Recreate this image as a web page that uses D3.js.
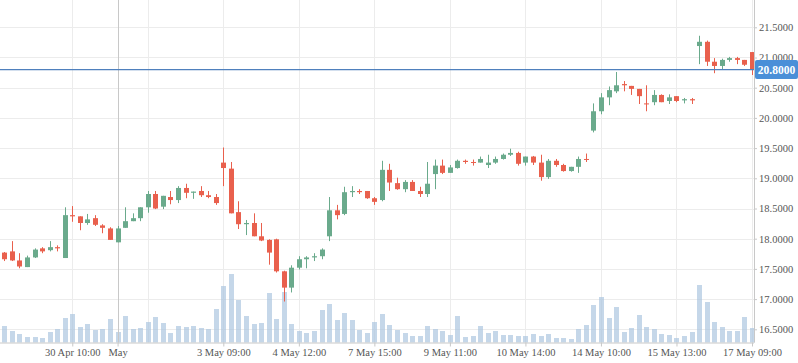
<!DOCTYPE html>
<html>
<head>
<meta charset="utf-8">
<script src="https://cdn.jsdelivr.net/npm/d3@7"></script>
<style>
	html, body { margin: 0; padding: 0; background: #fff; }
	svg { display: block; font-family: "Liberation Serif", "Times New Roman", serif; }
</style>
</head>
<body>
<svg id="chart" width="798" height="363"></svg>
<script>
// hourly candles, one per index
const opens  = [17.77,17.79,17.64,17.53,17.69,17.84,17.81,17.86,17.68,18.39, 18.37,18.26,18.34,18.22,18.17,17.94,18.18,18.29,18.34,18.52,
	18.74,18.53,18.69,18.64,18.84,18.76,18.79,18.72,18.69,19.26, 19.16,18.44,18.24,18.26,18.04,17.98,17.99,17.46,17.19,17.52,
	17.66,17.69,17.71,18.04,18.47,18.41,18.77,18.79,18.79,18.67, 18.64,19.14,18.92,18.82,18.94,18.79,18.74,19.07,19.21,19.09,
	19.17,19.29,19.27,19.26,19.22,19.26,19.32,19.39,19.42,19.26, 19.36,19.26,19.02,19.29,19.22,19.12,19.19,19.32,19.79,20.11,
	20.34,20.44,20.56,20.53,20.48,20.24,20.26,20.38,20.28,20.36, 20.29,20.31,21.19,21.26,20.93,20.86,20.96,20.99,20.96,21.09];
const highs  = [17.78,17.96,17.76,17.72,17.84,17.86,17.96,17.89,18.52,18.54, 18.37,18.41,18.39,18.24,18.19,18.21,18.52,18.42,18.52,18.79,
	18.79,18.71,18.79,18.87,18.91,18.78,18.87,18.79,18.74,19.51, 19.27,18.62,18.31,18.42,18.26,17.99,18.00,17.47,17.56,17.71,
	17.71,17.76,17.84,18.69,18.56,18.86,18.87,18.82,18.79,18.69, 19.29,19.24,19.01,18.97,18.97,18.86,19.27,19.31,19.31,19.22,
	19.31,19.31,19.31,19.36,19.39,19.36,19.41,19.49,19.44,19.36, 19.37,19.39,19.32,19.32,19.24,19.19,19.36,19.41,20.24,20.41,
	20.52,20.76,20.61,20.53,20.48,20.54,20.46,20.39,20.39,20.36, 20.33,20.33,21.36,21.28,20.99,20.98,21.01,21.01,20.96,21.09];
const lows   = [17.63,17.63,17.51,17.53,17.68,17.76,17.79,17.79,17.68,18.28, 18.14,18.23,18.21,18.09,17.98,17.94,18.18,18.29,18.29,18.43,
	18.49,18.49,18.57,18.59,18.67,18.66,18.69,18.67,18.56,18.87, 18.42,18.16,18.06,18.04,17.96,17.57,17.44,16.96,17.11,17.49,
	17.51,17.63,17.66,17.96,18.32,18.39,18.69,18.74,18.66,18.56, 18.62,18.79,18.81,18.77,18.79,18.69,18.69,18.82,19.07,19.09,
	19.16,19.24,19.21,19.26,19.17,19.24,19.31,19.37,19.21,19.21, 19.22,18.96,18.99,19.19,19.11,19.11,19.09,19.27,19.76,20.06,
	20.21,20.41,20.44,20.38,20.23,20.11,20.21,20.26,20.23,20.26, 20.24,20.23,20.89,20.86,20.74,20.81,20.93,20.89,20.86,20.71];
const closes = [17.66,17.64,17.54,17.69,17.82,17.79,17.86,17.84,18.39,18.37, 18.26,18.32,18.23,18.18,17.98,18.17,18.29,18.34,18.52,18.74,
	18.50,18.71,18.64,18.84,18.76,18.78,18.72,18.69,18.59,19.17, 18.42,18.24,18.26,18.04,17.97,17.77,17.46,17.19,17.52,17.66,
	17.69,17.71,17.82,18.47,18.39,18.77,18.79,18.77,18.67,18.61, 19.14,18.93,18.82,18.94,18.79,18.74,18.91,19.21,19.09,19.18,
	19.29,19.27,19.26,19.32,19.26,19.32,19.39,19.42,19.24,19.36, 19.26,19.02,19.29,19.22,19.12,19.19,19.32,19.31,20.11,20.34,
	20.46,20.54,20.54,20.48,20.36,20.23,20.38,20.26,20.34,20.28, 20.31,20.29,21.26,20.93,20.86,20.96,20.99,20.96,20.88,20.80];
const volumes = [165,115,85,55,55,45,105,135,245,285, 155,185,125,135,235,105,265,135,145,205,
	255,195,95,165,155,165,145,135,335,565, 685,425,265,185,195,495,235,505,185,115,
	95,115,325,385,225,295,225,125,95,205, 285,175,125,95,65,65,165,135,115,75,
	265,55,65,165,95,115,75,75,65,65, 85,65,85,45,45,35,135,175,375,455,
	245,355,105,145,275,155,135,85,75,45, 65,105,575,405,205,155,115,115,255,145];

const priceTicks = [16.5,17,17.5,18,18.5,19,19.5,20,20.5,21,21.5];
const gridIdx = [9,19,29,39,49,59,69,79,89,99];
const xTickIdx = [9,15,29,39,49,59,69,79,89,99];
const xTickLabels = ["30 Apr 10:00","May","3 May 09:00","4 May 12:00","7 May 15:00","9 May 11:00","10 May 14:00","14 May 10:00","15 May 13:00","17 May 09:00"];
const crossIdx = 15;
const lastPrice = 20.80;

const plotR = 754, plotB = 342.5;
const UP = "#6aaa8c", DOWN = "#e9604d";
const FONT = "Liberation Serif, Times New Roman, serif";

const svg = d3.select("#chart");
const data = d3.range(opens.length).map(i => ({ i, o: opens[i], h: highs[i], l: lows[i], c: closes[i], v: volumes[i] }));

const x = d3.scaleLinear().domain([0, 99]).range([4.3, 752]);
const y = d3.scaleLinear().domain([16.5, 21.5]).range([329.3, 27.3]);
const yv = d3.scaleLinear().domain([0, 1000]).range([plotB, plotB - 100]);
const bw = 5;

// grid
const grid = svg.append("g");
grid.selectAll("line.h").data(priceTicks).enter().append("line")
	.attr("x1", 0).attr("x2", plotR)
	.attr("y1", d => Math.round(y(d)) + 0.5).attr("y2", d => Math.round(y(d)) + 0.5)
	.attr("stroke", "#ececec").attr("stroke-width", 1);
grid.selectAll("line.v").data(gridIdx).enter().append("line")
	.attr("x1", d => Math.round(x(d)) + 0.5).attr("x2", d => Math.round(x(d)) + 0.5)
	.attr("y1", 0).attr("y2", plotB)
	.attr("stroke", "#ececec").attr("stroke-width", 1);

// volume
svg.append("g").selectAll("rect").data(data).enter().append("rect")
	.attr("x", d => Math.round(x(d.i)) + 0.5 - bw / 2)
	.attr("y", d => yv(d.v))
	.attr("width", bw)
	.attr("height", d => plotB - yv(d.v))
	.attr("fill", "#adc6df").attr("fill-opacity", 0.7);

// crosshair vertical
svg.append("line")
	.attr("x1", Math.round(x(crossIdx)) + 0.5).attr("x2", Math.round(x(crossIdx)) + 0.5)
	.attr("y1", 0).attr("y2", plotB)
	.attr("stroke", "#c8c8c8").attr("stroke-width", 1);

// candles
const cg = svg.append("g").selectAll("g").data(data).enter().append("g")
	.attr("fill", d => d.c >= d.o ? UP : DOWN)
	.attr("stroke", d => d.c >= d.o ? UP : DOWN);
cg.append("line")
	.attr("x1", d => Math.round(x(d.i)) + 0.5).attr("x2", d => Math.round(x(d.i)) + 0.5)
	.attr("y1", d => y(d.h)).attr("y2", d => y(d.l))
	.attr("stroke-width", 1);
cg.append("rect")
	.attr("stroke", "none")
	.attr("x", d => Math.round(x(d.i)) + 0.5 - bw / 2)
	.attr("y", d => y(Math.max(d.o, d.c)))
	.attr("width", bw)
	.attr("height", d => Math.max(1, Math.abs(y(d.o) - y(d.c))));

// last price line
svg.append("line")
	.attr("x1", 0).attr("x2", plotR)
	.attr("y1", y(lastPrice)).attr("y2", y(lastPrice))
	.attr("stroke", "#4f80bd").attr("stroke-width", 1.2);

// axes
const xAxis = svg.append("g")
	.attr("transform", `translate(0, ${plotB})`)
	.call(d3.axisBottom(x).tickValues(xTickIdx).tickFormat((d, k) => xTickLabels[k]).tickSize(4).tickPadding(2).tickSizeOuter(0));
xAxis.select(".domain").attr("stroke", "#c8c8c8").attr("d", `M0,0.5H${plotR}`);
xAxis.selectAll(".tick line").attr("stroke", "#c8c8c8");
xAxis.selectAll(".tick text").attr("font-size", "10.5px").attr("fill", "#555").attr("font-family", FONT);

const yAxis = svg.append("g")
	.attr("transform", `translate(${plotR}, 0)`)
	.call(d3.axisRight(y).tickValues(priceTicks).tickFormat(d3.format(".4f")).tickSize(3).tickPadding(2).tickSizeOuter(0));
yAxis.select(".domain").attr("stroke", "#c8c8c8").attr("d", `M0.5,0V${plotB}`);
yAxis.selectAll(".tick line").attr("stroke", "#c8c8c8");
yAxis.selectAll(".tick text").attr("font-size", "10.5px").attr("fill", "#555").attr("font-family", FONT);

// last price label
const ly = y(lastPrice);
svg.append("rect")
	.attr("x", plotR + 1).attr("y", ly - 9.5).attr("width", 43).attr("height", 19).attr("rx", 2)
	.attr("fill", "#4a8fd8");
svg.append("text")
	.attr("x", plotR + 22.5).attr("y", ly + 4)
	.attr("text-anchor", "middle").attr("font-size", "11.5px").attr("font-weight", "bold")
	.attr("font-family", FONT).attr("fill", "#fff")
	.text(d3.format(".4f")(lastPrice));
</script>
</body>
</html>
